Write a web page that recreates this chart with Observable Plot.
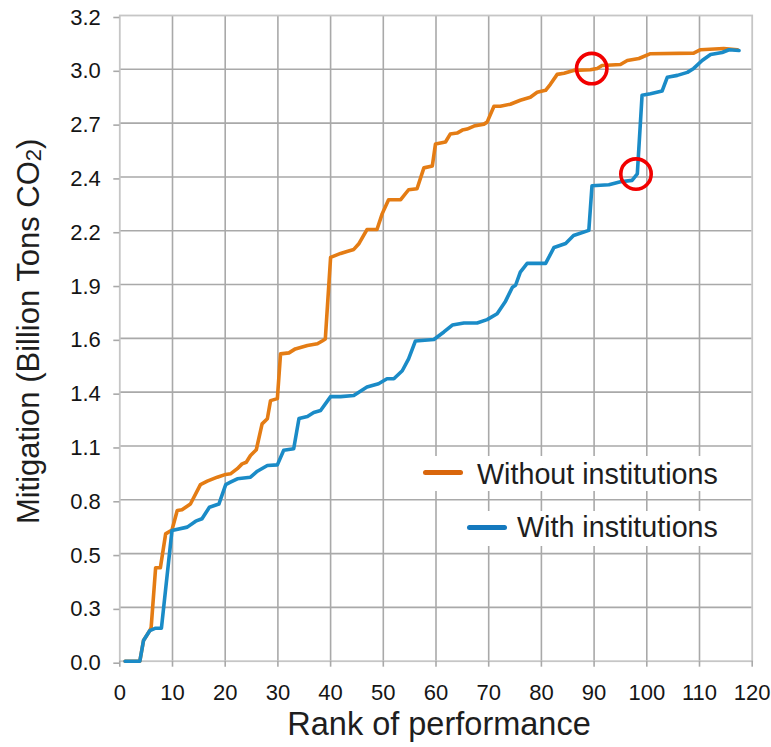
<!DOCTYPE html>
<html><head><meta charset="utf-8">
<script src="https://cdn.jsdelivr.net/npm/d3@7"></script>
<script src="https://cdn.jsdelivr.net/npm/@observablehq/plot@0.6"></script>
<style>
body{margin:0;background:#fff;}
#wrap{position:relative;width:771px;height:747px;overflow:hidden;}
.lg{position:absolute;background:#fff;}
.lg .sw{position:absolute;width:40px;height:5px;border-radius:3px;}
.lg .tx{position:absolute;white-space:nowrap;font-family:"Liberation Sans",Arial,Helvetica,sans-serif;font-size:28.7px;line-height:28px;color:#1e1e1e;}
</style></head><body><div id="wrap"></div>
<script>
// Rank of performance (x) and mitigation in billion tons CO2 (y)
const withoutX = [1, 3.8, 4.5, 5.7, 5.95, 6.8, 7.7, 8.7, 9.9, 10.9, 11.8, 13.4, 15.3, 16.6, 18.5, 20.1, 21.0, 22.3, 23.2, 24.0, 24.8, 25.9, 27.0, 28.0, 28.6, 29.9, 30.5, 32.1, 33.3, 35.6, 37.5, 38.4, 39.0, 40.0, 41.9, 43.1, 44.4, 45.4, 46.9, 48.8, 49.8, 51.0, 53.3, 54.8, 56.4, 57.7, 59.3, 59.9, 61.8, 62.7, 64.0, 65.0, 65.9, 67.2, 69.1, 69.7, 71.0, 72.2, 74.1, 76.0, 77.9, 79.2, 80.8, 81.7, 83.0, 84.3, 86.1, 89.3, 90.6, 91.5, 95.0, 96.3, 98.5, 100.7, 108.9, 110.2, 114.6, 117.2];
const withoutY = [0, 0, 0.104, 0.154, 0.17, 0.47, 0.47, 0.64, 0.66, 0.758, 0.761, 0.79, 0.888, 0.905, 0.925, 0.939, 0.942, 0.968, 0.992, 1.0, 1.034, 1.063, 1.193, 1.219, 1.31, 1.32, 1.545, 1.55, 1.57, 1.587, 1.596, 1.61, 1.62, 2.03, 2.05, 2.06, 2.07, 2.10, 2.17, 2.17, 2.25, 2.32, 2.32, 2.37, 2.375, 2.48, 2.49, 2.60, 2.61, 2.65, 2.655, 2.67, 2.675, 2.69, 2.70, 2.71, 2.79, 2.79, 2.80, 2.82, 2.835, 2.86, 2.87, 2.90, 2.95, 2.956, 2.97, 2.973, 2.98, 2.995, 3.0, 3.02, 3.03, 3.054, 3.057, 3.074, 3.08, 3.074];
const withX = [1, 3.8, 4.5, 5.7, 6.8, 7.9, 9.9, 12.8, 14.4, 15.6, 17.0, 18.8, 20.1, 21.0, 22.3, 24.8, 26.1, 28.0, 29.9, 31.1, 33.0, 34.0, 35.6, 36.8, 38.1, 40.0, 41.9, 44.4, 46.9, 49.1, 50.7, 52.0, 53.6, 54.8, 56.1, 59.6, 61.5, 63.1, 65.3, 67.8, 69.7, 71.6, 73.2, 74.5, 75.1, 76.0, 77.3, 80.8, 82.4, 84.6, 86.1, 89.0, 89.6, 92.8, 95.0, 97.2, 98.2, 99.1, 100.7, 102.9, 103.9, 105.8, 107.7, 108.9, 110.5, 112.1, 114.3, 115.6, 117.5];
const withY = [0, 0, 0.104, 0.154, 0.166, 0.166, 0.657, 0.674, 0.704, 0.716, 0.774, 0.79, 0.888, 0.9, 0.917, 0.925, 0.955, 0.984, 0.987, 1.06, 1.068, 1.22, 1.23, 1.25, 1.26, 1.33, 1.33, 1.336, 1.378, 1.395, 1.42, 1.42, 1.46, 1.52, 1.61, 1.617, 1.655, 1.69, 1.70, 1.70, 1.717, 1.747, 1.81, 1.88, 1.89, 1.956, 2.0, 2.0, 2.08, 2.10, 2.14, 2.166, 2.39, 2.395, 2.41, 2.417, 2.45, 2.845, 2.853, 2.866, 2.936, 2.945, 2.96, 2.98, 3.02, 3.05, 3.06, 3.074, 3.07];

const xTicks = [0, 10, 20, 30, 40, 50, 60, 70, 80, 90, 100, 110, 120];
const yTickValues = [0, 0.2705, 0.541, 0.8115, 1.082, 1.3525, 1.623, 1.8935, 2.164, 2.4345, 2.705, 2.9755, 3.246];
const yTickLabels = ["0.0", "0.3", "0.5", "0.8", "1.1", "1.4", "1.6", "1.9", "2.2", "2.4", "2.7", "3.0", "3.2"];

const seriesNames = ["Without institutions", "With institutions"];
const seriesColors = ["#E47C14", "#1A8BC7"];
const legendColors = ["#D9660C", "#1479BE"];

const highlightX = [89.55, 97.95];
const highlightY = [2.979, 2.449];

const FONT = '"Liberation Sans", Arial, Helvetica, sans-serif';
const rows = (xs, ys) => xs.map((x, i) => ({x, y: ys[i]}));
const highlights = highlightX.map((x, i) => ({x, y: highlightY[i]}));
const gridColor = "#a9a9a9";

const plot = Plot.plot({
  width: 771, height: 747,
  marginLeft: 119.3, marginRight: 19.3, marginTop: 15, marginBottom: 86.3,
  style: {fontFamily: FONT, background: "#fff", color: "#151515", overflow: "visible"},
  x: {domain: [0, 120], label: null},
  y: {domain: [0, yTickValues[yTickValues.length - 1]], label: null},
  marks: [
    Plot.gridX(xTicks.slice(1, -1), {stroke: gridColor, strokeOpacity: 1, strokeWidth: 1.6}),
    Plot.gridY(yTickValues.slice(1, -1), {stroke: gridColor, strokeOpacity: 1, strokeWidth: 1.6}),
    Plot.frame({stroke: "#c6c6c6", strokeWidth: 1.8}),
    Plot.axisX({ticks: xTicks, tickSize: 6, tickPadding: 17, fontSize: 22, stroke: gridColor, strokeWidth: 1.6, label: null}),
    Plot.axisY({ticks: yTickValues, tickFormat: d => yTickLabels[yTickValues.indexOf(d)], tickSize: 6, tickPadding: 13, fontSize: 22, dy: 2, stroke: gridColor, strokeWidth: 1.6, label: null}),
    Plot.line(rows(withoutX, withoutY), {x: "x", y: "y", stroke: seriesColors[0], strokeWidth: 3.6}),
    Plot.line(rows(withX, withY), {x: "x", y: "y", stroke: seriesColors[1], strokeWidth: 3.6}),
    Plot.dot(highlights, {x: "x", y: "y", r: 15.2, stroke: "#f20000", strokeWidth: 3.6, fill: "none"}),
    Plot.text(["Mitigation (Billion Tons CO2)"], {frameAnchor: "left", textAnchor: "middle", rotate: -90, dx: -90.5, dy: -7, fontSize: 31, fill: "#1e1e1e"}),
    Plot.text(["Rank of performance"], {frameAnchor: "bottom", textAnchor: "middle", dx: 3, dy: 74, fontSize: 32.5, fill: "#1e1e1e"})
  ]
});

const wrap = document.getElementById("wrap");
wrap.appendChild(plot);

// subscript in the y title
d3.select(plot).selectAll("text").filter(function(){ return this.textContent === "Mitigation (Billion Tons CO2)"; })
  .each(function(){
    const t = d3.select(this);
    t.text(null);
    t.append("tspan").text("Mitigation (Billion Tons CO");
    t.append("tspan").attr("font-size", 22).attr("dy", 2).text("2");
    t.append("tspan").attr("dy", -2).text(")");
  });

// legend boxes
const legendBoxes = [
  {left: 413, top: 456, width: 312, height: 35, swLeft: 10, txLeft: 64, txTop: 3.6},
  {left: 456, top: 511, width: 269, height: 35, swLeft: 11, txLeft: 61, txTop: 2}
];
seriesNames.forEach((name, i) => {
  const b = legendBoxes[i];
  const box = document.createElement("div");
  box.className = "lg";
  Object.assign(box.style, {left: b.left + "px", top: b.top + "px", width: b.width + "px", height: b.height + "px"});
  const sw = document.createElement("div");
  sw.className = "sw";
  Object.assign(sw.style, {left: b.swLeft + "px", top: "13.8px", background: legendColors[i]});
  const tx = document.createElement("div");
  tx.className = "tx";
  Object.assign(tx.style, {left: b.txLeft + "px", top: b.txTop + "px"});
  tx.textContent = name;
  box.appendChild(sw); box.appendChild(tx);
  wrap.appendChild(box);
});
</script>
</body></html>
